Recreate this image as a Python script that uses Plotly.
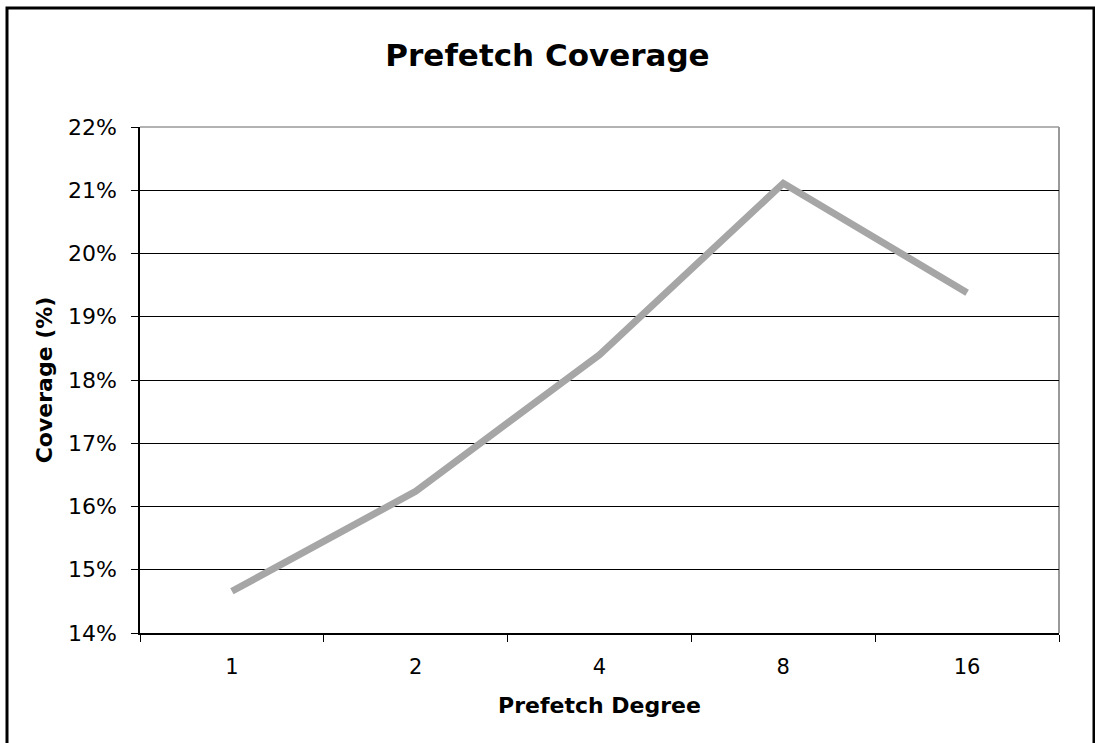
import plotly.graph_objects as go

# Prefetch degree categories and measured coverage
degrees = ["1", "2", "4", "8", "16"]
coverage = [0.1466, 0.1624, 0.1840, 0.2111, 0.1938]

y_ticks = [0.14, 0.15, 0.16, 0.17, 0.18, 0.19, 0.20, 0.21, 0.22]

FONT = "DejaVu Sans, Verdana, sans-serif"

fig = go.Figure()
fig.add_trace(go.Scatter(
    x=degrees, y=coverage, mode="lines",
    line=dict(color="#A6A6A6", width=7),
    hoverinfo="skip", showlegend=False,
))

fig.update_layout(
    width=1095, height=743,
    margin=dict(l=140, r=36, t=127, b=110),
    paper_bgcolor="white", plot_bgcolor="white",
    title=dict(text="<b>Prefetch Coverage</b>", x=0.5, xanchor="center",
               y=0.926, yanchor="middle",
               font=dict(family=FONT, size=31, color="black")),
    font=dict(family=FONT, color="black"),
    xaxis=dict(
        type="category", tickson="boundaries", range=[-0.5, 4.5],
        showgrid=False, showline=True, linecolor="black", linewidth=1.5,
        ticks="outside", ticklen=7, tickcolor="black",
        tickfont=dict(size=21), ticklabelstandoff=14,
        title=dict(text="<b>Prefetch Degree</b>", font=dict(size=22), standoff=20),
    ),
    yaxis=dict(
        range=[0.14, 0.22], tickvals=y_ticks, tickformat=".0%",
        showgrid=True, gridcolor="black", gridwidth=1,
        showline=True, linecolor="black", linewidth=1.5,
        ticks="outside", ticklen=7, tickcolor="black",
        tickfont=dict(size=22), zeroline=False, ticklabelstandoff=10,
        title=dict(text="<b>Coverage (%)</b>", font=dict(size=22), standoff=9),
    ),
    shapes=[
        # gray frame on the top and right of the plotting area
        dict(type="line", xref="paper", yref="paper", x0=0, x1=1, y0=1, y1=1,
             line=dict(color="#999999", width=1.5), layer="below"),
        dict(type="line", xref="paper", yref="paper", x0=1, x1=1, y0=0, y1=1,
             line=dict(color="#999999", width=2), layer="below"),
        # outer chart border
        dict(type="rect", xref="paper", yref="paper",
             x0=-133 / 919, x1=1094 / 919 - 140 / 919,
             y0=-110 / 506 - 0.01, y1=(127 - 8) / 506 + 1,
             line=dict(color="black", width=3), fillcolor="rgba(0,0,0,0)"),
    ],
)

fig.write_html("out.html")
